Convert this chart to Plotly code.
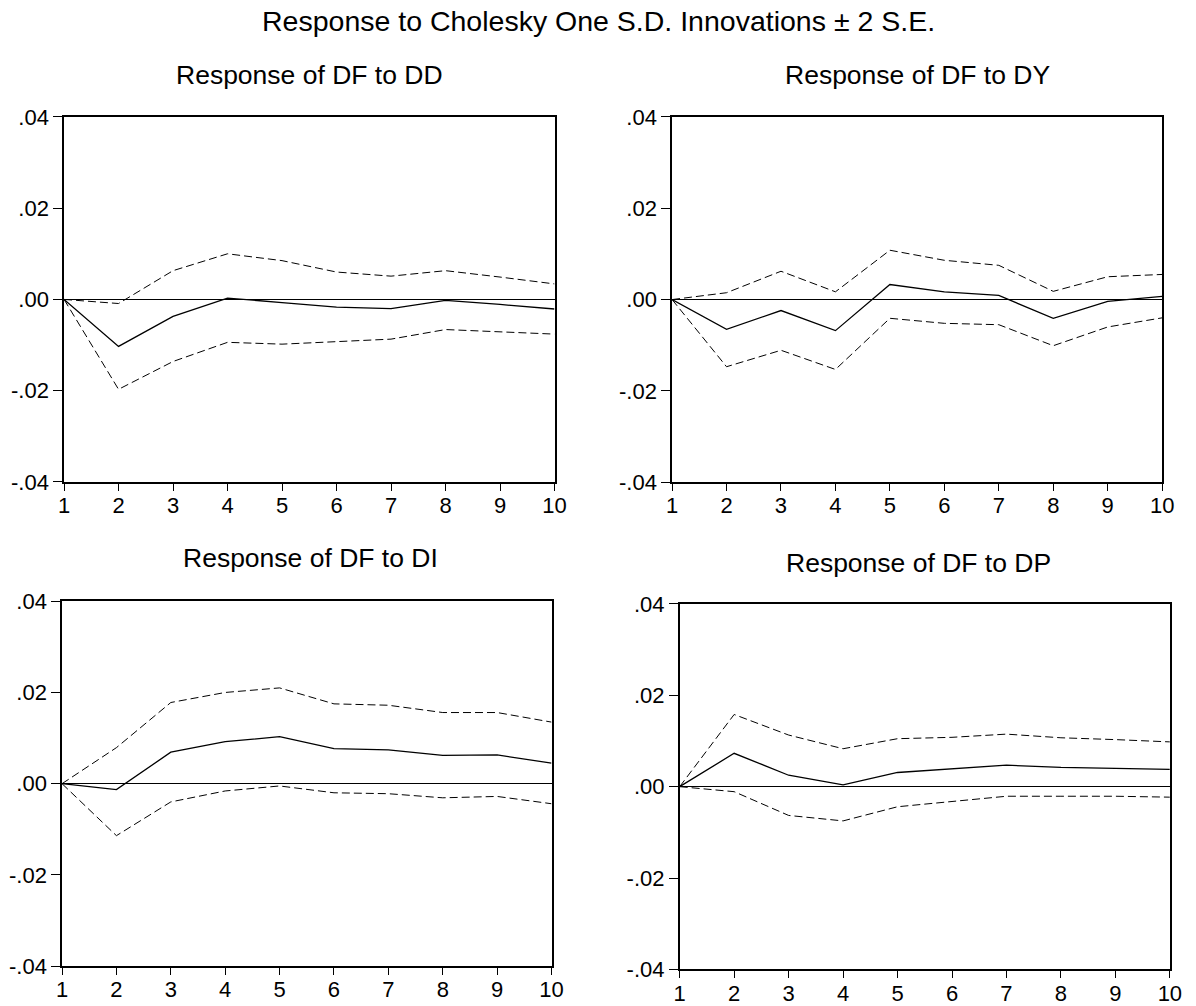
import plotly.graph_objects as go

W, H = 1196, 1006
steps = [1, 2, 3, 4, 5, 6, 7, 8, 9, 10]

# Response of DF to DD
dd_resp = [0.0, -0.0103, -0.0037, 0.0003, -0.0007, -0.0017, -0.0020, -0.0002, -0.0011, -0.0021]
dd_up = [0.0, -0.0009, 0.0063, 0.0100, 0.0085, 0.0060, 0.0051, 0.0063, 0.0049, 0.0034]
dd_lo = [0.0, -0.0197, -0.0136, -0.0094, -0.0098, -0.0092, -0.0087, -0.0066, -0.0071, -0.0076]

# Response of DF to DY
dy_resp = [0.0, -0.0065, -0.0024, -0.0068, 0.0033, 0.0017, 0.0009, -0.0041, -0.0004, 0.0007]
dy_up = [0.0, 0.0015, 0.0062, 0.0017, 0.0108, 0.0086, 0.0075, 0.0018, 0.0050, 0.0055]
dy_lo = [0.0, -0.0147, -0.0111, -0.0153, -0.0041, -0.0052, -0.0055, -0.0101, -0.0060, -0.0040]

# Response of DF to DI
di_resp = [0.0, -0.0013, 0.0069, 0.0092, 0.0103, 0.0077, 0.0074, 0.0062, 0.0063, 0.0045]
di_up = [0.0, 0.0079, 0.0178, 0.0200, 0.0210, 0.0175, 0.0172, 0.0156, 0.0156, 0.0135]
di_lo = [0.0, -0.0114, -0.0040, -0.0016, -0.0005, -0.0020, -0.0022, -0.0031, -0.0028, -0.0044]

# Response of DF to DP
dp_resp = [0.0, 0.0073, 0.0025, 0.0004, 0.0031, 0.0039, 0.0047, 0.0042, 0.0040, 0.0038]
dp_up = [0.0, 0.0158, 0.0113, 0.0083, 0.0105, 0.0108, 0.0115, 0.0107, 0.0103, 0.0098]
dp_lo = [0.0, -0.0011, -0.0063, -0.0075, -0.0044, -0.0032, -0.0021, -0.0021, -0.0021, -0.0023]

titles = ["Response of DF to DD", "Response of DF to DY",
          "Response of DF to DI", "Response of DF to DP"]
ytickvals = [-0.04, -0.02, 0.0, 0.02, 0.04]
yticktext = ["-.04", "-.02", ".00", ".02", ".04"]
xticktext = [str(s) for s in steps]

panels = [
    (dd_resp, dd_up, dd_lo),
    (dy_resp, dy_up, dy_lo),
    (di_resp, di_up, di_lo),
    (dp_resp, dp_up, dp_lo),
]


# target pixel layout, corrected for the observed capture mapping
def px(x):
    return (x - 4.9) / 0.986


def py(y):
    return (y - 11.2) / 0.975


boxes = [(63, 554, 116.7, 484), (671.7, 1162.3, 116.7, 484.3),
         (61, 551, 604, 971), (679.3, 1170, 606.7, 974.3)]
title_pos = [(309, 75), (917, 75), (310, 560), (918, 566)]

FONT = "Liberation Sans, Arial, sans-serif"
fig = go.Figure()
layout = dict(width=W, height=H, margin=dict(l=0, r=0, t=0, b=0),
              paper_bgcolor="white", plot_bgcolor="white", showlegend=False,
              font=dict(family=FONT, color="black"))
annotations = []

for i, (resp, up, lo) in enumerate(panels):
    n = i + 1
    xa = "x" if n == 1 else f"x{n}"
    ya = "y" if n == 1 else f"y{n}"
    for series, dash, w in ((up, "8px,4px", 1), (lo, "8px,4px", 1), (resp, "solid", 1.3)):
        fig.add_trace(go.Scatter(x=steps, y=series, mode="lines", xaxis=xa, yaxis=ya,
                                 line=dict(color="black", width=w, dash=dash),
                                 hoverinfo="skip"))
    l, r, t, b = boxes[i]
    key_x = "xaxis" if n == 1 else f"xaxis{n}"
    key_y = "yaxis" if n == 1 else f"yaxis{n}"
    layout[key_x] = dict(domain=[px(l) / W, px(r) / W], range=[1, 10], anchor=ya,
                         tickvals=steps, ticktext=xticktext, ticks="outside", ticklen=7,
                         tickcolor="black", tickwidth=1,
                         showline=True, linecolor="black", linewidth=1.5, mirror=True,
                         showgrid=False, zeroline=False,
                         tickfont=dict(size=22, family=FONT, color="black"))
    layout[key_y] = dict(domain=[1 - py(b) / H, 1 - py(t) / H], range=[-0.04, 0.04], anchor=xa,
                         tickvals=ytickvals, ticktext=yticktext, ticks="outside", ticklen=9,
                         tickcolor="black", tickwidth=1,
                         showline=True, linecolor="black", linewidth=1.5, mirror=True,
                         showgrid=False, zeroline=True, zerolinecolor="black", zerolinewidth=1,
                         tickfont=dict(size=22, family=FONT, color="black"))
    cx, cy = title_pos[i]
    annotations.append(dict(text=titles[i], x=px(cx) / W, y=1 - py(cy) / H,
                            xref="paper", yref="paper",
                            xanchor="center", yanchor="middle", showarrow=False,
                            font=dict(size=26.5, family=FONT, color="black")))

annotations.append(dict(text="Response to Cholesky One S.D. Innovations \u00b1 2 S.E.",
                        x=px(598) / W, y=1 - py(20) / H, xref="paper", yref="paper",
                        xanchor="center", yanchor="middle", showarrow=False,
                        font=dict(size=28.5, family=FONT, color="black")))
layout["annotations"] = annotations
fig.update_layout(**layout)
fig.update_xaxes(ticklabelstandoff=-4)

post = (
    "var d=document.getElementById('{plot_id}');"
    "document.documentElement.style.margin='0';document.documentElement.style.padding='0';"
    "document.documentElement.style.overflow='hidden';"
    "document.body.style.margin='0';document.body.style.padding='0';"
    "document.body.style.overflow='hidden';"
    "d.style.position='fixed';d.style.left='0px';d.style.top='0px';"
)
fig.write_html("out.html", config={"displayModeBar": False}, post_script=post)
